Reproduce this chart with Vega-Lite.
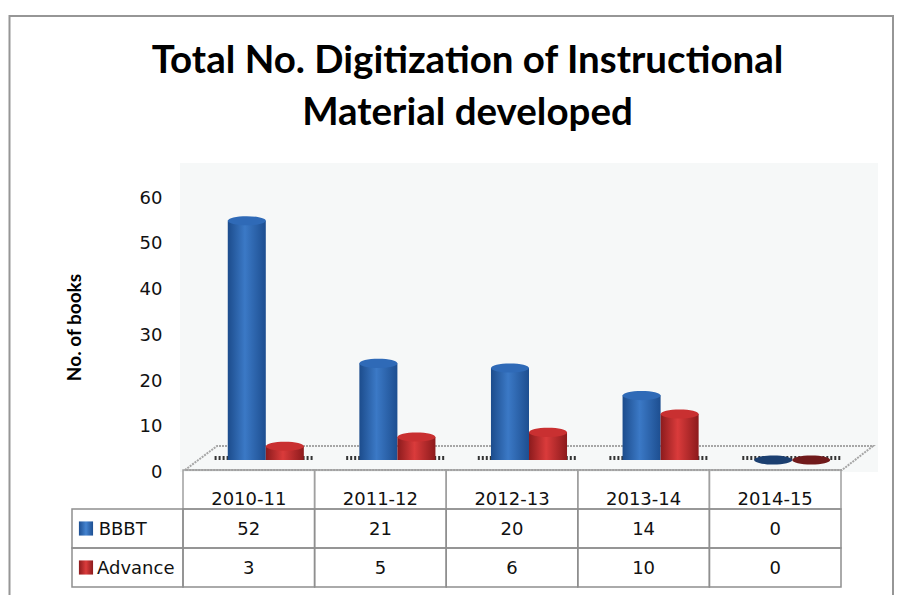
{"$schema":"https://vega.github.io/schema/vega-lite/v6.json","width":909,"height":595,"padding":0,"autosize":"none","background":"white","config":{"view":{"stroke":null},"font":"DejaVu Sans"},
"title":{"text":["Total No. Digitization of Instructional","Material developed"],"font":"Lato","fontWeight":"bold","fontSize":38.5,"lineHeight":52,"color":"#000000","anchor":"middle","frame":"group","dx":13,"offset":-133},
"datasets":{"main":[
{"year":"2010-11","series":"BBBT","value":52},{"year":"2011-12","series":"BBBT","value":21},{"year":"2012-13","series":"BBBT","value":20},{"year":"2013-14","series":"BBBT","value":14},{"year":"2014-15","series":"BBBT","value":0},
{"year":"2010-11","series":"Advance","value":3},{"year":"2011-12","series":"Advance","value":5},{"year":"2012-13","series":"Advance","value":6},{"year":"2013-14","series":"Advance","value":10},{"year":"2014-15","series":"Advance","value":0}],
"years":[{"year":"2010-11","row":"Header"},{"year":"2011-12","row":"Header"},{"year":"2012-13","row":"Header"},{"year":"2013-14","row":"Header"},{"year":"2014-15","row":"Header"}],
"shadow":[{"from":0.24,"to":0.985},{"from":1.24,"to":1.985},{"from":2.24,"to":2.985},{"from":3.24,"to":3.985},{"from":4.25,"to":5.0}],
"frame":[{"fx":0,"fy":0},{"fx":0,"fy":1},{"fx":1,"fy":1},{"fx":1,"fy":0}],
"plot":[{"px0":0,"px1":1,"py0":0,"py1":1}],
"floor":[{"fx":0,"fy":0,"o":0},{"fx":0.0465,"fy":1,"o":1},{"fx":1,"fy":1,"o":2},{"fx":0.955,"fy":0,"o":3},{"fx":0,"fy":0,"o":4}],
"rows":[{"series":"BBBT","col0":0,"col1":1,"tx":0.24,"sx":0.126},{"series":"Advance","col0":0,"col1":1,"tx":0.225,"sx":0.126}]},
"layer":[
{"data":{"name":"frame"},"mark":{"type":"line","color":"#969696","strokeWidth":2},"encoding":{"x":{"field":"fx","type":"quantitative","axis":null,"scale":{"domain":[0,1],"range":[9.5,893]}},"y":{"field":"fy","type":"quantitative","axis":null,"scale":{"domain":[0,1],"range":[600,16]}},"order":{"field":"fx"}}},
{"data":{"name":"plot"},"mark":{"type":"bar","color":"#f6f8f8"},"encoding":{"x":{"field":"px0","type":"quantitative","axis":null,"scale":{"domain":[0,1],"range":[180,878]}},"x2":{"field":"px1"},"y":{"field":"py0","type":"quantitative","axis":null,"scale":{"domain":[0,1],"range":[472,163]}},"y2":{"field":"py1"}}},
{"data":{"name":"floor"},"mark":{"type":"line","color":"#a6a6a6","strokeWidth":2,"strokeDash":[2,1]},"encoding":{"x":{"field":"fx","type":"quantitative","axis":null,"scale":{"domain":[0,1],"range":[185,873]}},"y":{"field":"fy","type":"quantitative","axis":null,"scale":{"domain":[0,1],"range":[470,446]}},"order":{"field":"o"}}},
{"data":{"name":"shadow"},"mark":{"type":"rule","color":"#333333","strokeWidth":4,"strokeDash":[2,2]},"encoding":{"x":{"field":"from","type":"quantitative","axis":null,"scale":{"domain":[0,5],"range":[183,841]}},"x2":{"field":"to"},"y":{"datum":0,"type":"quantitative","axis":null,"scale":{"domain":[0,1],"range":[458,448]}}}},
{"data":{"name":"main"},"mark":{"type":"point","opacity":0},"encoding":{"y":{"field":"value","type":"quantitative","scale":{"domain":[0,60],"range":[470.5,196]},"axis":{"values":[0,10,20,30,40,50,60],"offset":-184,"ticks":false,"grid":false,"labelPadding":22,"labelOffset":2,"labelFont":"DejaVu Sans","labelFontSize":18,"labelColor":"#111111","domainColor":"#999999","domainWidth":2,"title":"No. of books","titleFont":"Lato","titleFontWeight":"bold","titleFontSize":19,"titleColor":"#000000","titleX":-100,"titleY":327}},"x":{"datum":0,"type":"quantitative","axis":null,"scale":{"domain":[0,1],"range":[184,184]}}}},
{"data":{"name":"main"},"transform":[{"filter":"datum.series==='BBBT'"}],"mark":{"type":"bar","color":{"gradient":"linear","x1":0,"y1":0,"x2":1,"y2":0,"stops":[{"offset":0,"color":"#1c4c8c"},{"offset":0.45,"color":"#3b79c6"},{"offset":1,"color":"#1d4e90"}]}},"encoding":{"x":{"field":"year","type":"nominal","axis":null,"scale":{"range":[200,858],"paddingInner":0,"paddingOuter":0}},"xOffset":{"field":"series","scale":{"type":"band","domain":["BBBT","Advance"],"paddingInner":0,"paddingOuter":0.73}},"y":{"field":"value","type":"quantitative","axis":null,"scale":{"domain":[0,60],"range":[460,184]}}}},
{"data":{"name":"main"},"transform":[{"filter":"datum.series==='Advance'"}],"mark":{"type":"bar","color":{"gradient":"linear","x1":0,"y1":0,"x2":1,"y2":0,"stops":[{"offset":0,"color":"#8c1b1d"},{"offset":0.45,"color":"#da3b3b"},{"offset":1,"color":"#8c1a1c"}]}},"encoding":{"x":{"field":"year","type":"nominal","axis":null,"scale":{"range":[200,858],"paddingInner":0,"paddingOuter":0}},"xOffset":{"field":"series","scale":{"type":"band","domain":["BBBT","Advance"],"paddingInner":0,"paddingOuter":0.73}},"y":{"field":"value","type":"quantitative","axis":null,"scale":{"domain":[0,60],"range":[460,184]}}}},
{"data":{"name":"main"},"transform":[{"filter":"datum.series==='BBBT'"}],"mark":{"type":"point","filled":true,"opacity":1,"size":1444,"shape":"M-1,0A1,0.24,0,1,1,1,0A1,0.24,0,1,1,-1,0Z"},"encoding":{"x":{"field":"year","type":"nominal","axis":null,"scale":{"type":"band","range":[200,858],"paddingInner":0,"paddingOuter":0}},"xOffset":{"field":"series","scale":{"type":"band","domain":["BBBT","Advance"],"paddingInner":0,"paddingOuter":0.73}},"y":{"field":"value","type":"quantitative","axis":null,"scale":{"domain":[0,60],"range":[460,184]}},"color":{"condition":{"test":"datum.value===0","value":"#1b3f70"},"value":"#2f6ab7"}}},
{"data":{"name":"main"},"transform":[{"filter":"datum.series==='Advance'"}],"mark":{"type":"point","filled":true,"opacity":1,"size":1444,"shape":"M-1,0A1,0.24,0,1,1,1,0A1,0.24,0,1,1,-1,0Z"},"encoding":{"x":{"field":"year","type":"nominal","axis":null,"scale":{"type":"band","range":[200,858],"paddingInner":0,"paddingOuter":0}},"xOffset":{"field":"series","scale":{"type":"band","domain":["BBBT","Advance"],"paddingInner":0,"paddingOuter":0.73}},"y":{"field":"value","type":"quantitative","axis":null,"scale":{"domain":[0,60],"range":[460,184]}},"color":{"condition":{"test":"datum.value===0","value":"#701a1b"},"value":"#c93031"}}},
{"data":{"name":"years"},"mark":{"type":"bar","fillOpacity":0,"stroke":"#a0a0a0","strokeWidth":1.5},"encoding":{"x":{"field":"year","type":"nominal","axis":null,"scale":{"range":[183,841],"paddingInner":0,"paddingOuter":0}},"y":{"field":"row","type":"nominal","axis":null,"scale":{"domain":["Header","BBBT","Advance"],"range":[470,587],"paddingInner":0,"paddingOuter":0}}}},
{"data":{"name":"main"},"mark":{"type":"bar","fillOpacity":0,"stroke":"#8f8f8f","strokeWidth":1.5},"encoding":{"x":{"field":"year","type":"nominal","axis":null,"scale":{"range":[183,841],"paddingInner":0,"paddingOuter":0}},"y":{"field":"series","type":"nominal","axis":null,"scale":{"domain":["Header","BBBT","Advance"],"range":[470,587],"paddingInner":0,"paddingOuter":0}}}},
{"data":{"name":"rows"},"mark":{"type":"bar","fillOpacity":0,"stroke":"#8f8f8f","strokeWidth":1.5},"encoding":{"x":{"field":"col0","type":"quantitative","axis":null,"scale":{"domain":[0,1],"range":[72,183]}},"x2":{"field":"col1"},"y":{"field":"series","type":"nominal","axis":null,"scale":{"domain":["Header","BBBT","Advance"],"range":[470,587],"paddingInner":0,"paddingOuter":0}}}},
{"data":{"name":"years"},"mark":{"type":"text","font":"DejaVu Sans","fontSize":18,"color":"#111111","dy":10},"encoding":{"x":{"field":"year","type":"nominal","axis":null,"scale":{"range":[183,841],"paddingInner":0,"paddingOuter":0}},"y":{"field":"row","type":"nominal","axis":null,"scale":{"domain":["Header","BBBT","Advance"],"range":[470,587],"paddingInner":0,"paddingOuter":0}},"text":{"field":"year"}}},
{"data":{"name":"main"},"mark":{"type":"text","font":"DejaVu Sans","fontSize":18,"color":"#111111","dy":1.5},"encoding":{"x":{"field":"year","type":"nominal","axis":null,"scale":{"range":[183,841],"paddingInner":0,"paddingOuter":0}},"y":{"field":"series","type":"nominal","axis":null,"scale":{"domain":["Header","BBBT","Advance"],"range":[470,587],"paddingInner":0,"paddingOuter":0}},"text":{"field":"value"}}},
{"data":{"name":"rows"},"mark":{"type":"text","font":"DejaVu Sans","fontSize":18,"color":"#111111","align":"left","dy":1},"encoding":{"x":{"field":"tx","type":"quantitative","axis":null,"scale":{"domain":[0,1],"range":[72,183]}},"y":{"field":"series","type":"nominal","axis":null,"scale":{"domain":["Header","BBBT","Advance"],"range":[470,587],"paddingInner":0,"paddingOuter":0}},"text":{"field":"series"}}},
{"data":{"name":"rows"},"transform":[{"filter":"datum.series==='BBBT'"}],"mark":{"type":"point","shape":"square","filled":true,"opacity":1,"size":200,"color":{"gradient":"linear","x1":0,"y1":0,"x2":1,"y2":0,"stops":[{"offset":0,"color":"#1d4f92"},{"offset":0.5,"color":"#4584d0"},{"offset":1,"color":"#1d4f92"}]}},"encoding":{"x":{"field":"sx","type":"quantitative","axis":null,"scale":{"domain":[0,1],"range":[72,183]}},"y":{"field":"series","type":"nominal","axis":null,"scale":{"domain":["Header","BBBT","Advance"],"range":[470,587],"paddingInner":0,"paddingOuter":0}}}},
{"data":{"name":"rows"},"transform":[{"filter":"datum.series==='Advance'"}],"mark":{"type":"point","shape":"square","filled":true,"opacity":1,"size":200,"color":{"gradient":"linear","x1":0,"y1":0,"x2":1,"y2":0,"stops":[{"offset":0,"color":"#8c1b1d"},{"offset":0.5,"color":"#dc3c3c"},{"offset":1,"color":"#8c1b1d"}]}},"encoding":{"x":{"field":"sx","type":"quantitative","axis":null,"scale":{"domain":[0,1],"range":[72,183]}},"y":{"field":"series","type":"nominal","axis":null,"scale":{"domain":["Header","BBBT","Advance"],"range":[470,587],"paddingInner":0,"paddingOuter":0}}}}
],
"resolve":{"scale":{"x":"independent","y":"independent","xOffset":"independent","color":"independent"},"axis":{"y":"independent","x":"independent"}}}
